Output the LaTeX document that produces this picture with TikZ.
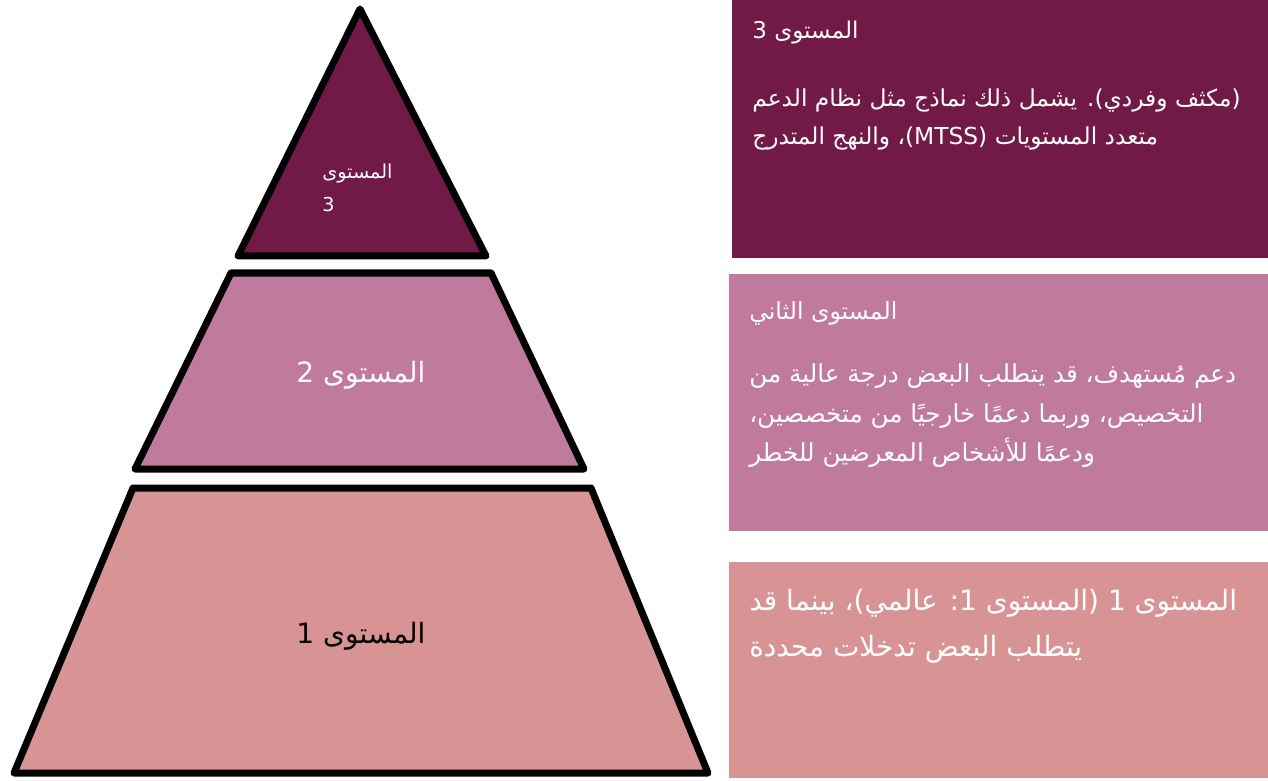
\documentclass[tikz,border=0pt]{standalone}
\usepackage{fontspec}
\newfontfamily\arabicfont[Script=Arabic]{DejaVu Sans}
\TeXXeTstate=1
\definecolor{tierthree}{RGB}{114,26,71}
\definecolor{tiertwo}{RGB}{192,122,158}
\definecolor{tierone}{RGB}{216,148,148}

\begin{document}
\begin{tikzpicture}[x=0.75pt,y=0.75pt,yscale=-1,xscale=1,
  tier/.style={draw=black,line width=5.25pt,line join=round},
  lbl/.style={inner sep=0pt,align=left,text=white}]
\path[use as bounding box] (0,0) rectangle (1268,781);

%Shape: Triangle [id:tier3]
\draw [tier, fill=tierthree] (360,9) -- (486,256) -- (238,256) -- cycle ;
%Shape: Trapezoid [id:tier2]
\draw [tier, fill=tiertwo] (231,273) -- (491,273) -- (584,469) -- (135,469) -- cycle ;
%Shape: Trapezoid [id:tier1]
\draw [tier, fill=tierone] (133,488) -- (591,488) -- (708,773) -- (14,773) -- cycle ;

%Shape: Rectangle [id:panel3]
\draw [draw=none, fill=tierthree] (732,0) rectangle (1268,258) ;
%Shape: Rectangle [id:panel2]
\draw [draw=none, fill=tiertwo] (729,274) rectangle (1268,531) ;
%Shape: Rectangle [id:panel1]
\draw [draw=none, fill=tierone] (729,562) rectangle (1268,778) ;

% Text Node
\draw (322,188) node [anchor=west, lbl, font=\arabicfont\fontsize{14.4}{24.75}\selectfont] (tierthreelbl) {\beginR المستوى\endR\\\beginR 3\endR};
% Text Node
\draw (361,375) node [lbl, font=\arabicfont\fontsize{21}{24}\selectfont] (tiertwolbl) {\beginR المستوى 2\endR};
% Text Node
\draw (361,636) node [lbl, text=black, font=\arabicfont\fontsize{21}{24}\selectfont] (tieronelbl) {\beginR المستوى 1\endR};

% Text Node
\draw (752,33) node [anchor=west, lbl, font=\arabicfont\fontsize{17.3}{20}\selectfont] (panelthreehead) {\beginR المستوى 3\endR};
% Text Node
\draw (752,119) node [anchor=west, lbl, font=\arabicfont\fontsize{17.5}{28.5}\selectfont] (panelthreebody) {\beginR (مكثف وفردي). يشمل ذلك نماذج مثل نظام الدعم\endR\\\beginR متعدد المستويات \beginL(MTSS)\endL\kern0pt، والنهج المتدرج\endR};

% Text Node
\draw (749,313) node [anchor=west, lbl, font=\arabicfont\fontsize{17.7}{20}\selectfont] (paneltwohead) {\beginR المستوى الثاني\endR};
% Text Node
\draw (749,416) node [anchor=west, lbl, font=\arabicfont\fontsize{18.5}{29.6}\selectfont] (paneltwobody) {\beginR دعم مُستهدف، قد يتطلب البعض درجة عالية من\endR\\\beginR التخصيص، وربما دعمًا خارجيًا من متخصصين،\endR\\\beginR ودعمًا للأشخاص المعرضين للخطر\endR};

% Text Node
\draw (749,626) node [anchor=west, lbl, font=\arabicfont\fontsize{21}{34.5}\selectfont] (panelonebody) {\beginR المستوى 1 (المستوى 1: عالمي)، بينما قد\endR\\\beginR يتطلب البعض تدخلات محددة\endR};

\end{tikzpicture}
\end{document}
